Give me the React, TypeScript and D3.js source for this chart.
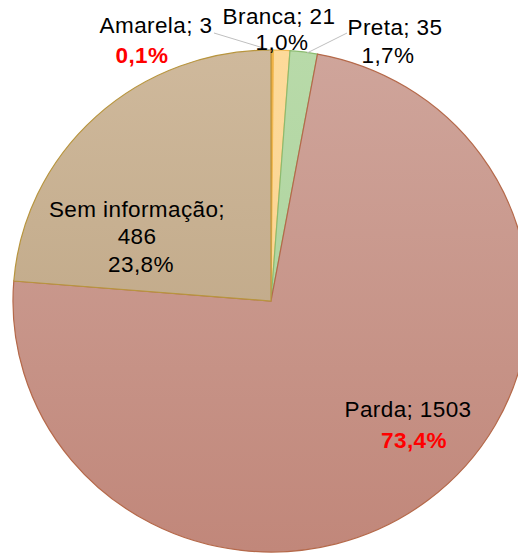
import React from "react";
import * as d3 from "d3";

// categories, clockwise from 12 o'clock
const categories = ["Amarela", "Branca", "Preta", "Parda", "Sem informação"];
const counts = [3, 21, 35, 1503, 486];
const percentLabels = ["0,1%", "1,0%", "1,7%", "73,4%", "23,8%"];
const highlighted = [true, false, false, true, false];

const fillTop = ["#F7BE50", "#FDDA9A", "#B8DAA9", "#CFA59B", "#CFB99C"];
const fillBottom = ["#F2B03C", "#FAD08A", "#A8D098", "#C1877A", "#B89F7C"];
const strokes = ["#E39A2C", "#F0B850", "#8CBB70", "#B5694A", "#B8953E"];

const W = 518;
const H = 553;
const cx = 271;
const cy = 301;
const radius = 251;
const stretchX = 1.028; // the chart is a bit wider than tall

const font = "'Liberation Sans', Arial, sans-serif";

const App = () => {
    const pie = d3.pie<number>().sort(null).value((d) => d);
    const arcs = pie(counts);
    const arc = d3.arc<d3.PieArcDatum<number>>().innerRadius(0).outerRadius(radius);

    // label placement: each line gets its own centre x and baseline
    const labels = [
        { name: [156, 33], pct: [142, 63], text: categories[0] + "; " + counts[0] },
        { name: [279, 24], pct: [282, 50], text: categories[1] + "; " + counts[1] },
        { name: [395, 35], pct: [388, 63], text: categories[2] + "; " + counts[2] },
        { name: [408, 417], pct: [414, 448], text: categories[3] + "; " + counts[3] },
        { name: [137, 217], pct: [141, 272], text: categories[4] + ";", extra: [137, 244, String(counts[4])] },
    ];
    const leaders = [
        [[214, 33], [270, 50]],
        [[347, 33], [307, 53]],
    ];

    const txt = (x: number, y: number, s: string, bold: boolean, key: string) => (
        <text key={key} x={x} y={y} textAnchor="middle" fontFamily={font} fontSize={22.5}
            letterSpacing={0.4} fill={bold ? "#FF0000" : "#000"} fontWeight={bold ? "bold" : "normal"}>
            {s}
        </text>
    );

    return (
        <svg width={W} height={H} style={{ position: "absolute", left: 0, top: 0, background: "#fff" }}>
            <defs>
                {categories.map((c, i) => (
                    <linearGradient key={c} id={"g" + i} gradientUnits="userSpaceOnUse" x1={0} y1={-radius} x2={0} y2={radius}>
                        <stop offset="0%" stopColor={fillTop[i]} />
                        <stop offset="100%" stopColor={fillBottom[i]} />
                    </linearGradient>
                ))}
            </defs>
            <g transform={`translate(${cx},${cy}) scale(${stretchX},1)`}>
                {arcs.map((a, i) => (
                    <path key={categories[i]} d={arc(a) || ""} fill={`url(#g${i})`} stroke={strokes[i]}
                        strokeWidth={1.2} vectorEffect="non-scaling-stroke" />
                ))}
            </g>
            {leaders.map((l, i) => (
                <line key={"l" + i} x1={l[0][0]} y1={l[0][1]} x2={l[1][0]} y2={l[1][1]} stroke="#BFBFBF" strokeWidth={1} />
            ))}
            {labels.map((l, i) => (
                <g key={"t" + i}>
                    {txt(l.name[0], l.name[1], l.text, false, "n")}
                    {l.extra ? txt(l.extra[0] as number, l.extra[1] as number, l.extra[2] as string, false, "e") : null}
                    {txt(l.pct[0], l.pct[1], percentLabels[i], highlighted[i], "p")}
                </g>
            ))}
        </svg>
    );
};

export default App;
